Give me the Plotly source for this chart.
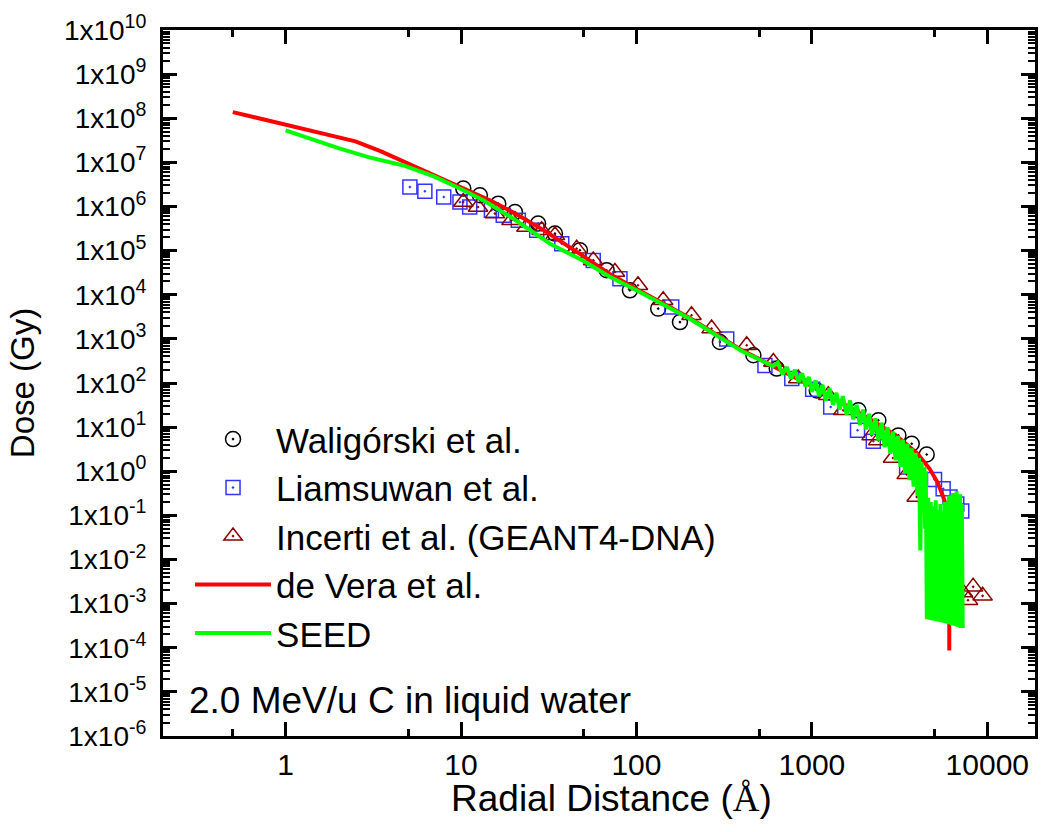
import math
import plotly.graph_objects as go

# Waligórski et al. (circles)
wal_r = [10.3, 12.8, 16.3, 20.3, 27.5, 34.3, 47.6, 67.6, 91.8, 133, 177, 299,
         464, 630, 1066, 1841, 2393, 3112, 3707, 4514]
wal_dose = [2.55e6, 1.8e6, 1.16e6, 7.5e5, 4.1e5, 2.43e5, 1.02e5, 3.6e4, 1.26e4,
            4.85e3, 2.4e3, 850, 425, 212, 68, 24, 14.3, 6.5, 4.2, 2.4]

# Liamsuwan et al. (squares)
lia_r = [5.11, 6.22, 7.97, 9.86, 11.2, 14.9, 17.4, 21.2, 27, 37.5, 56.7, 80.5,
         159, 327, 540, 768, 1010, 1280, 1820, 2240, 3467, 5000, 5600, 6125,
         6700, 7150]
lia_dose = [2.77e6, 2.21e6, 1.64e6, 1.26e6, 9.75e5, 8.2e5, 6.3e5, 4.86e5,
            2.9e5, 1.44e5, 6.0e4, 2.3e4, 5.3e3, 1.0e3, 2.5e2, 1.26e2, 72, 28.6,
            8.5, 4.8, 1.25, 0.65, 0.40, 0.26, 0.18, 0.126]

# Incerti et al. (GEANT4-DNA) (triangles)
inc_r = [10.3, 12.5, 15.6, 19.4, 23.6, 28.8, 34.3, 45.6, 56.7, 75.4, 102, 142,
         206, 268, 425, 603, 836, 1240, 1509, 2190, 2392, 2900, 3470, 3957,
         7270, 7760, 8300, 9400]
inc_dose = [1.26e6, 9.75e5, 6.9e5, 4.86e5, 3.44e5, 2.9e5, 2.22e5, 1.11e5,
            6.0e4, 3.28e4, 1.64e4, 7.5e3, 3.42e3, 1.71e3, 716, 299, 126, 52.6,
            24, 6.5, 5.0, 2.0, 0.85, 0.26, 1.78e-3, 1.2e-3, 2.4e-3, 1.5e-3]

# de Vera et al. (red line)
dev_r = [0.5, 1, 2, 2.5, 3.5, 5, 7, 10, 15, 20, 30, 50, 70, 100, 200, 400, 700,
         1000, 2000, 3000, 4000, 4700, 5200, 5700, 6000, 6070, 6070]
dev_dose = [1.38e8, 7.2e7, 3.8e7, 3.0e7, 1.78e7, 9.5e6, 5.0e6, 2.8e6, 1.32e6,
            7.2e5, 2.8e5, 7.4e4, 3.0e4, 1.35e4, 3.0e3, 550, 170, 85, 18, 6.6,
            2.5, 1.12, 0.56, 0.22, 0.08, 0.025, 8.7e-5]

# SEED (green line, noisy Monte Carlo tail)
seed_r = [1, 1.5, 2, 3, 4.7, 7, 10, 13.4, 20, 32, 50, 70, 100, 200, 400,
          600, 640, 680, 720, 760, 800, 840, 880, 920, 960, 1000, 1050, 1100,
          1150, 1200, 1260, 1320, 1380, 1440, 1500, 1580, 1650, 1720, 1800,
          1880, 1960, 2040, 2120, 2200, 2300, 2400, 2500, 2600, 2700, 2800,
          2900, 3000, 3100, 3200, 3300, 3400, 3500, 3600, 3700, 3800, 3900,
          4000, 4080, 4150, 4220, 4300, 4380, 4420, 4460,
          4520, 4600, 4680, 4760, 4840, 4920, 5000, 5080, 5160, 5240, 5320,
          5400, 5480, 5560, 5640, 5720, 5800, 5880, 5960, 6040, 6120, 6200,
          6280, 6360, 6440, 6520, 6600, 6680, 6760, 6840, 6920, 7000, 7080,
          7160, 7240]
seed_dose = [5.3e7, 3.1e7, 2.1e7, 1.3e7, 8.5e6, 4.8e6, 2.5e6, 1.38e6, 5.2e5,
             1.45e5, 5.8e4, 2.6e4, 1.26e4, 2.9e3, 525,
             240, 288, 158, 229, 126, 200, 105, 166, 83, 138, 63, 115, 50, 91,
             40, 76, 32, 60, 25, 50, 19, 40, 15, 32, 11.2, 25, 8.9, 20, 6.6,
             15.8, 5.0, 12.6, 3.5, 10, 2.5, 7.9, 1.78, 6.3, 1.26, 5.2, 0.89,
             4.2, 0.63, 3.3, 0.45, 2.6, 0.28, 2.0, 0.016, 1.58, 0.2, 1.26,
             0.05, 1.0,
             4.4e-4, 0.25, 4.3e-4, 0.2, 4.2e-4, 0.16, 4.1e-4, 0.22, 4.0e-4,
             0.13, 3.9e-4, 0.18, 3.8e-4, 0.12, 3.7e-4, 0.2, 3.6e-4, 0.15,
             3.5e-4, 0.28, 3.4e-4, 0.17, 3.3e-4, 0.32, 3.2e-4, 0.2, 3.1e-4,
             0.35, 3.0e-4, 0.22, 2.9e-4, 0.3, 2.8e-4, 0.18, 2.8e-4]

x_ticks = [1, 10, 100, 1000, 10000]
x_minor = [0.5, 5, 50, 500, 5000]
y_exps = list(range(-6, 11))

font_name = "Liberation Sans, Arial, sans-serif"
narrow = "Liberation Sans Narrow, Arial Narrow, Liberation Sans, sans-serif"

fig = go.Figure()
fig.add_trace(go.Scatter(
    x=wal_r, y=wal_dose, mode="markers", name="Waligórski et al.",
    marker=dict(symbol="circle-open-dot", size=15, color="black",
                line=dict(width=1.5, color="black"))))
fig.add_trace(go.Scatter(
    x=lia_r, y=lia_dose, mode="markers", name="Liamsuwan et al.",
    marker=dict(symbol="square-open-dot", size=14, color="#3333FF",
                line=dict(width=1.5, color="#3333FF"))))
fig.add_trace(go.Scatter(
    x=inc_r, y=inc_dose, mode="markers", name="Incerti et al. (GEANT4-DNA)",
    marker=dict(symbol="triangle-up-open-dot", size=17, color="#8B0000",
                line=dict(width=1.5, color="#8B0000"))))
fig.add_trace(go.Scatter(
    x=dev_r, y=dev_dose, mode="lines", name="de Vera et al.",
    line=dict(color="#FF0000", width=4)))
fig.add_trace(go.Scatter(
    x=seed_r, y=seed_dose, mode="lines", name="SEED",
    line=dict(color="#00FF00", width=4)))

axis_common = dict(
    type="log", showgrid=False, zeroline=False, showline=True, linewidth=3,
    linecolor="black", mirror="allticks", ticks="inside", ticklen=14,
    tickwidth=2.5, tickcolor="black", automargin=False,
)

fig.update_xaxes(
    **axis_common,
    range=[math.log10(0.2), math.log10(18700)],
    tickmode="array", tickvals=x_ticks, ticktext=[str(v) for v in x_ticks],
    minor=dict(tickmode="array", tickvals=x_minor, ticks="inside", ticklen=7,
               tickwidth=2.5, tickcolor="black"),
    tickfont=dict(family=narrow, size=30, color="black"),
)
fig.update_yaxes(
    **axis_common,
    range=[-6, 10],
    tickmode="array", tickvals=[10.0 ** k for k in y_exps],
    ticktext=["1x10<sup>%d</sup>" % k for k in y_exps],
    minor=dict(tickmode="array",
               tickvals=[m * 10.0 ** k for k in range(-6, 10) for m in range(2, 10)],
               ticks="inside", ticklen=7, tickwidth=2, tickcolor="black"),
    tickfont=dict(family=narrow, size=28, color="black"),
    ticklabelstandoff=8,
    title=dict(text="Dose (Gy)", font=dict(family=font_name, size=33, color="black"),
               standoff=20),
)

# x axis title placed as an annotation so it can sit close to the tick labels
fig.add_annotation(
    text="Radial Distance (<span style='font-family:Liberation Serif'>Å</span>)",
    xref="paper", yref="paper", x=0.514, y=-0.089, xanchor="center",
    yanchor="middle", showarrow=False,
    font=dict(family=font_name, size=37, color="black"),
)
fig.add_annotation(
    text="2.0 MeV/u C in liquid water", xref="paper", yref="paper",
    x=0.027, y=0.05, xanchor="left", yanchor="middle", showarrow=False,
    font=dict(family=font_name, size=37, color="black"),
)

fig.update_layout(
    width=1042, height=832,
    margin=dict(l=163, r=7, t=30, b=96),
    paper_bgcolor="white", plot_bgcolor="white",
    legend=dict(x=0.031, y=0.462, xanchor="left", yanchor="top",
                bgcolor="rgba(0,0,0,0)", itemwidth=76,
                font=dict(family=font_name, size=35, color="black"),
                tracegroupgap=0),
    showlegend=True,
)

fig.write_html("out.html", config={"displayModeBar": False},
               post_script="document.body.style.margin='0px';")
